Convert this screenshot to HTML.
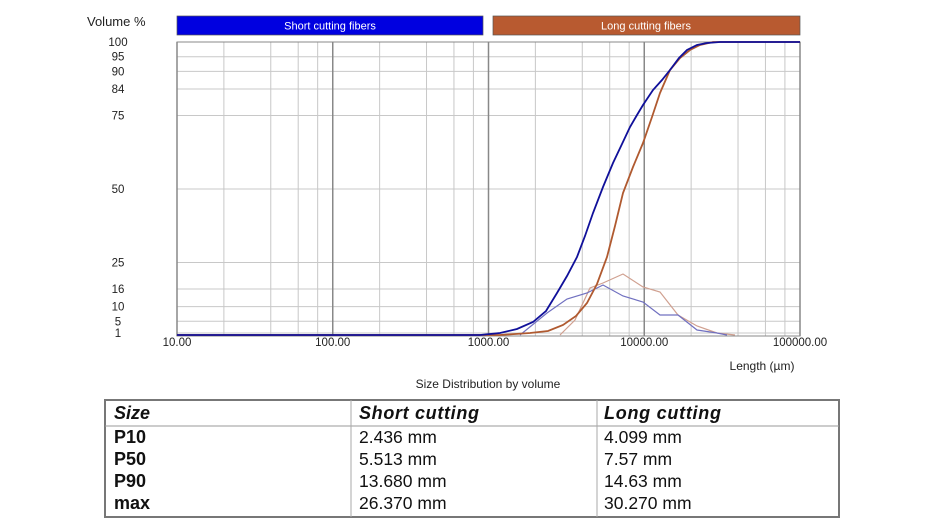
<!DOCTYPE html>
<html><head><meta charset="utf-8"><style>
body{margin:0;width:950px;height:531px;background:#fff;overflow:hidden;font-family:"Liberation Sans",sans-serif;}
</style></head><body>
<svg width="950" height="531" style="position:absolute;left:0;top:0" font-family="Liberation Sans, sans-serif">
<rect x="177" y="16" width="306" height="19" fill="#0000e0" stroke="#555" stroke-width="0.7"/>
<text x="330" y="29.5" fill="#fff" font-size="11" text-anchor="middle">Short cutting fibers</text>
<rect x="493" y="16" width="307" height="19" fill="#b85a30" stroke="#555" stroke-width="0.7"/>
<text x="646" y="29.5" fill="#fff" font-size="11" text-anchor="middle">Long cutting fibers</text>
<text x="87" y="26" font-size="13" fill="#222">Volume %</text>
<g id="grid" stroke="#c8c8c8" stroke-width="1"></g>
<g id="lab" font-size="11.5" fill="#222" text-anchor="middle"></g>
<rect x="177" y="42" width="623" height="294" fill="none" stroke="#888" stroke-width="1"/>
<g fill="none" stroke-width="1.2">
<polyline stroke="#d0a090" points="560,335 575,320 590,288 603,283 623,274 643,287 660,292 678,315 697,326 717,333 735,335"/>
<polyline stroke="#7070c0" points="520,335 547,313 567,299 587,293 603,285 623,296 643,302 660,315 678,315 697,330 717,333 727,335"/>
<polyline stroke="#b05a30" stroke-width="1.8" points="177,335 500,335 530,333 548,331 563,325 576,316 587,303 597,284 607,257 615,226 623,193 633,167 643,143 652,117 660,93 670,70 680,58 690,50 700,45 713,42 800,42"/>
<polyline stroke="#10109a" stroke-width="1.8" points="177,335 480,335 500,333 517,329 533,322 546,311 557,293 567,276 577,257 585,236 593,213 603,187 613,163 622,144 630,127 637,115 643,105 653,90 662,80 670,70 679,58 687,50 697,45 707,43 720,42 800,42"/>
</g>
<text x="762" y="370" font-size="12" fill="#222" text-anchor="middle">Length (µm)</text>
<text x="488" y="388" font-size="12" fill="#222" text-anchor="middle">Size Distribution by volume</text>
<rect x="105" y="400" width="734" height="117" fill="none" stroke="#777" stroke-width="2"/>
<line x1="105" y1="426" x2="839" y2="426" stroke="#999"/>
<line x1="351" y1="400" x2="351" y2="517" stroke="#aaa"/>
<line x1="597" y1="400" x2="597" y2="517" stroke="#aaa"/>
<g font-size="18" fill="#111" font-style="italic" font-weight="bold">
<text x="114" y="419">Size</text><text x="359" y="419" textLength="120">Short cutting</text><text x="604" y="419" textLength="117">Long cutting</text></g>
<g font-size="18" fill="#111" font-weight="bold">
<text x="114" y="443">P10</text><text x="114" y="465">P50</text><text x="114" y="487">P90</text><text x="114" y="509">max</text></g>
<g font-size="17.5" fill="#111">
<text x="359" y="443">2.436 mm</text><text x="359" y="465">5.513 mm</text><text x="359" y="487">13.680 mm</text><text x="359" y="509">26.370 mm</text>
<text x="604" y="443">4.099 mm</text><text x="604" y="465">7.57 mm</text><text x="604" y="487">14.63 mm</text><text x="604" y="509">30.270 mm</text></g>
</svg>
<script>
var g=document.getElementById('grid'),l=document.getElementById('lab'),ns='http://www.w3.org/2000/svg';
function el(p,t,a,txt){var e=document.createElementNS(ns,t);for(var k in a)e.setAttribute(k,a[k]);if(txt)e.textContent=txt;p.appendChild(e);}
var ys=[100,95,90,84,75,50,25,16,10,5,1];
ys.forEach(function(v){var y=336-2.94*v;el(g,'line',{x1:177,x2:800,y1:y,y2:y});el(l,'text',{x:118,y:y+4},''+v);});
for(var d=0;d<4;d++)for(var m=2;m<10;m+=2){var x=177+155.75*(d+Math.log10(m));el(g,'line',{x1:x,x2:x,y1:42,y2:336});}
var labs=['10.00','100.00','1000.00','10000.00','100000.00'];
for(var d=0;d<5;d++){var x=177+155.75*d;el(g,'line',{x1:x,x2:x,y1:42,y2:336,stroke:'#888','stroke-width':1.5});el(l,'text',{x:x,y:346},labs[d]);}
</script>
</body></html>
